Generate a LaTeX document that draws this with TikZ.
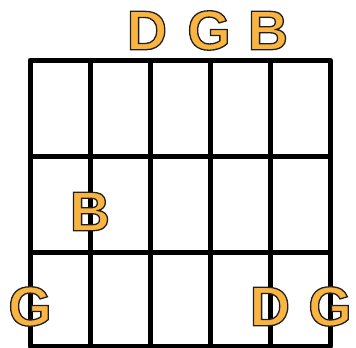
\documentclass[tikz,border=0pt]{standalone}
\usepackage{fontspec}
\setmainfont{Liberation Sans}
\definecolor{noteorange}{RGB}{250,180,66}
\newcommand{\outlined}[1]{{\color{noteorange}\special{pdf:literal direct 2 Tr 1.3 w 0.12 G}#1\special{pdf:literal direct 0 Tr}}}

\begin{document}
\begin{tikzpicture}[
        x=1bp, y=-1bp,
        fret/.style = {draw=black, line width=5bp},
        note/.style = {inner sep=0pt, anchor=center, font=\fontsize{56}{56}\bfseries}
    ]
        \useasboundingbox (0,0) rectangle (356,348);

        % Fretboard
        \foreach \s in {90,150,210,270} {
            \draw [fret] (\s,60) -- (\s,346);
        }
        \foreach \f in {156,252} {
            \draw [fret] (30,\f) -- (330,\f);
        }
        \draw [fret, line join=round] (30,60) rectangle (330,346);

        % Open strings
        \node (openD) [note] at (147,30.5) {\outlined{D}};
        \node (openG) [note] at (209,30.5) {\outlined{G}};
        \node (openB) [note] at (268,30.5) {\outlined{B}};

        % Fretted notes
        \node (fretB) [note] at (90,211.5) {\outlined{B}};
        \node (lowG)  [note] at (30,306.5) {\outlined{G}};
        \node (fretD) [note] at (270,306.5) {\outlined{D}};
        \node (highG) [note] at (330,306.5) {\outlined{G}};

    \end{tikzpicture}
\end{document}
